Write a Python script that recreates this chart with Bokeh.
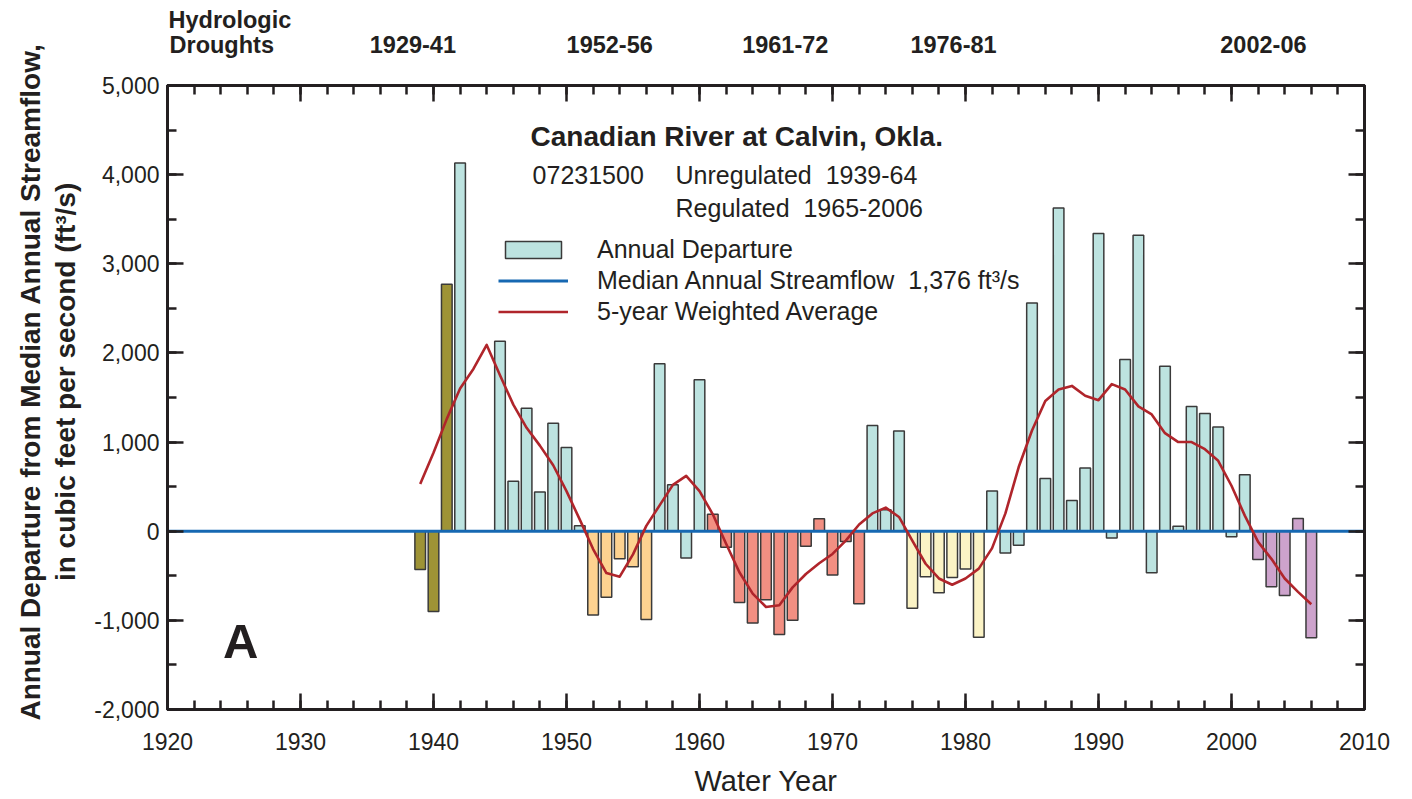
import numpy as np
from bokeh.plotting import figure
from bokeh.models import (ColumnDataSource, LinearAxis, SingleIntervalTicker, FixedTicker,
                          NumeralTickFormatter, Label, Legend, LegendItem, Range1d,
                          CustomJSTickFormatter)
from bokeh.embed import file_html
from bokeh.resources import INLINE

# ---------------- data ----------------
years = list(range(1939, 2007))
departure = [
    -430, -900, 2770, 4130, np.nan, np.nan, 2130, 560, 1380, 440,      # 1939-1948
    1210, 940, 60, -940, -740, -310, -400, -990, 1880, 520,            # 1949-1958
    -300, 1700, 190, -180, -800, -1030, -770, -1160, -1000, -170,      # 1959-1968
    140, -490, -115, -815, 1185, 240, 1125, -865, -510, -690,          # 1969-1978
    -520, -425, -1190, 450, -245, -157, 2560, 590, 3625, 345,          # 1979-1988
    710, 3340, -75, 1925, 3320, -466, 1850, 56, 1400, 1320,            # 1989-1998
    1170, -63, 634, -317, -623, -720, 142, -1194,                      # 1999-2006
]
weighted_avg = [
    530, 880, 1260, 1600, 1820, 2090, 1750, 1420, 1160, 960,           # 1939-1948
    740, 450, 130, -200, -470, -510, -260, 60, 290, 520,               # 1949-1958
    620, 450, 190, -140, -460, -700, -850, -830, -630, -480,           # 1959-1968
    -360, -255, -105, 75, 200, 265, 160, -105, -365, -530,             # 1969-1978
    -600, -530, -420, -190, 200, 720, 1130, 1460, 1590, 1630,          # 1979-1988
    1520, 1470, 1650, 1590, 1400, 1310, 1100, 1000, 1000, 920,         # 1989-1998
    790, 510, 175, -120, -310, -530, -680, -820,                       # 1999-2006
]
median_departure = 0
median_flow_label = "1,376"
drought_labels = ["1929-41", "1952-56", "1961-72", "1976-81", "2002-06"]
drought_starts = [1929, 1952, 1961, 1976, 2002]
drought_ends = [1941, 1956, 1972, 1981, 2006]

# ---------------- styles ----------------
FONT = "Liberation Sans"
INK = "#231f20"
WET = "#bde3e0"
drought_colors = ["#9e9336", "#fdd290", "#f28f82", "#fbf3c5", "#cda3cc"]
NB = "\u00a0"

def bar_color(y):
    for s, e, c in zip(drought_starts, drought_ends, drought_colors):
        if s <= y <= e:
            return c
    return WET

mask = [not np.isnan(v) for v in departure]
bx = [y for y, m in zip(years, mask) if m]
bt = [v for v, m in zip(departure, mask) if m]
bc = [bar_color(y) for y in bx]
bars_src = ColumnDataSource(dict(x=bx, top=bt, color=bc))

X0, X1 = 1920, 2010
Y0, Y1 = -2000, 5000

p = figure(width=1412, height=799, title=None,
           x_range=Range1d(X0, X1), y_range=Range1d(Y0, Y1),
           output_backend="svg", toolbar_location=None,
           min_border_left=167, min_border_right=48,
           min_border_top=85, min_border_bottom=90)
p.xgrid.visible = False
p.ygrid.visible = False
p.outline_line_color = INK
p.outline_line_width = 3
p.background_fill_color = "white"
p.border_fill_color = "white"

bars = p.vbar(x="x", top="top", bottom=0, width=0.8, source=bars_src,
              fill_color="color", line_color="#3a3a3a", line_width=1.5)
median = p.line(x=[X0, X1], y=[median_departure, median_departure],
                line_color="#1668b2", line_width=3)
avg = p.line(x=years, y=weighted_avg, line_color="#b0252b", line_width=2.6,
             line_join="round")

xt = SingleIntervalTicker(interval=10, num_minor_ticks=5)
yt = SingleIntervalTicker(interval=1000, num_minor_ticks=2)

def style(ax):
    ax.axis_line_color = INK
    ax.axis_line_width = 3
    ax.major_tick_in = 16
    ax.major_tick_out = 0
    ax.minor_tick_in = 9
    ax.minor_tick_out = 0
    ax.major_tick_line_color = INK
    ax.minor_tick_line_color = INK
    ax.major_tick_line_width = 2.5
    ax.minor_tick_line_width = 2.5
    ax.major_label_text_font = FONT
    ax.major_label_text_font_size = "23px"
    ax.major_label_text_color = INK

xa = p.xaxis[0]
xa.ticker = xt
style(xa)
xa.major_label_standoff = 23
xa.axis_label = "Water Year"
xa.axis_label_text_font = FONT
xa.axis_label_text_font_size = "29px"
xa.axis_label_text_font_style = "normal"
xa.axis_label_text_color = INK
xa.axis_label_standoff = 12

ya = p.yaxis[0]
ya.ticker = yt
ya.formatter = NumeralTickFormatter(format="0,0")
style(ya)
ya.major_label_standoff = 8
pad = NB * 4
ya.axis_label = (pad + "Annual Departure from Median Annual Streamflow,\n"
                 + pad + "in cubic feet per second (ft\u00b3/s)")
ya.axis_label_text_font = FONT
ya.axis_label_text_font_size = "28px"
ya.axis_label_text_font_style = "bold"
ya.axis_label_text_color = INK
ya.axis_label_text_line_height = 1.15
ya.axis_label_standoff = 10

blank = CustomJSTickFormatter(code="return ''")
top_ax = LinearAxis(ticker=xt, formatter=blank)
style(top_ax)
p.add_layout(top_ax, "above")
right_ax = LinearAxis(ticker=yt, formatter=blank)
style(right_ax)
p.add_layout(right_ax, "right")

# drought header rows (label-only axes above the frame)
def header_axis(positions, texts, standoff):
    ax = LinearAxis(ticker=FixedTicker(ticks=positions),
                    major_label_overrides={pos: t for pos, t in zip(positions, texts)})
    ax.axis_line_color = None
    ax.major_tick_line_color = None
    ax.minor_tick_line_color = None
    ax.major_tick_in = 0
    ax.major_tick_out = 0
    ax.minor_tick_in = 0
    ax.minor_tick_out = 0
    ax.major_label_standoff = standoff
    ax.major_label_text_font = FONT
    ax.major_label_text_font_size = "23.5px"
    ax.major_label_text_font_style = "bold"
    ax.major_label_text_color = INK
    p.add_layout(ax, "above")
    return ax

drought_label_x = [1938.45, 1953.25, 1966.45, 1979.1, 2002.4]
header_axis([1924.08] + drought_label_x, ["Droughts"] + drought_labels, 28)
header_axis([1924.69], ["Hydrologic"], -4)

# ---------------- annotations ----------------
def lab(x, y, text, size, bold=False, align="center"):
    p.add_layout(Label(x=x, y=y, text=text, text_font=FONT, text_font_size=size,
                       text_font_style="bold" if bold else "normal",
                       text_color=INK, text_align=align, text_baseline="middle"))

lab(1962.8, 4428, "Canadian River at Calvin, Okla.", "28px", bold=True)
lab(1947.45, 4001, "07231500", "25px", align="left")
lab(1958.2, 4001, "Unregulated" + NB * 2 + "1939-64", "25px", align="left")
lab(1958.2, 3631, "Regulated" + NB * 2 + "1965-2006", "25px", align="left")
lab(1925.5, -1227, "A", "49px", bold=True)

wet_index = bc.index(WET)
legend = Legend(items=[
    LegendItem(label="Annual Departure", renderers=[bars], index=wet_index),
    LegendItem(label="Median Annual Streamflow" + NB * 2 + median_flow_label + " ft\u00b3/s",
               renderers=[median]),
    LegendItem(label="5-year Weighted Average", renderers=[avg]),
], location=(331, 383), glyph_width=70, glyph_height=21, label_standoff=29,
   spacing=1, padding=0, margin=0, border_line_color=None,
   background_fill_alpha=0, label_text_font=FONT, label_text_font_size="25px",
   label_text_color=INK, label_height=30)
p.add_layout(legend)

open("out.html", "w").write(file_html(p, INLINE))
